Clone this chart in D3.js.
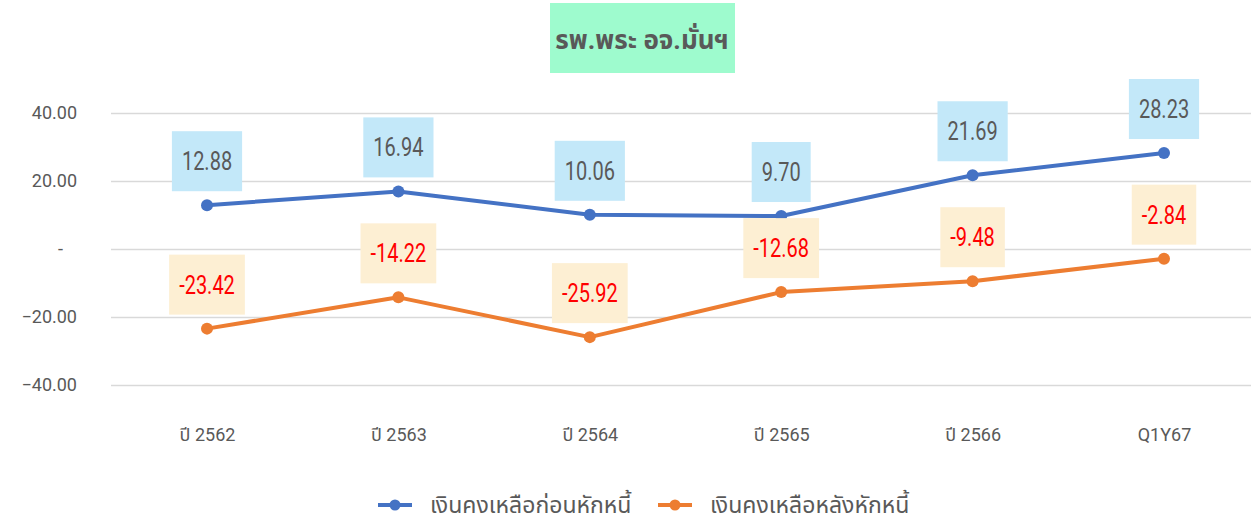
<!DOCTYPE html>
<html>
<head>
<meta charset="utf-8">
<script src="https://cdn.jsdelivr.net/npm/d3@7"></script>
<style>
  body { margin: 0; background: #fff; }
  text { font-family: Roboto, "Noto Sans Thai", "Noto Sans", "DejaVu Sans", sans-serif; }
</style>
</head>
<body>
<div id="chart"></div>
<script>
// chart values
const categories = ["ปี 2562", "ปี 2563", "ปี 2564", "ปี 2565", "ปี 2566", "Q1Y67"];
const beforeDebt = [12.88, 16.94, 10.06, 9.70, 21.69, 28.23];
const afterDebt = [-23.42, -14.22, -25.92, -12.68, -9.48, -2.84];
const seriesNames = ["เงินคงเหลือก่อนหักหนี้", "เงินคงเหลือหลังหักหนี้"];
const yTicks = [-40, -20, 0, 20, 40];
const titleText = "รพ.พระ อจ.มั่นฯ";

const width = 1251, height = 520;
const blue = "#4472C4", orange = "#ED7D31";

const svg = d3.select("#chart").append("svg")
    .attr("width", width)
    .attr("height", height);

const x = d3.scalePoint().domain(categories).range([207, 1164]);
const y = d3.scaleLinear().domain([-40, 40]).range([385, 113]);

// title
const tg = svg.append("g");
tg.append("rect")
    .attr("x", 550).attr("y", 3)
    .attr("width", 185).attr("height", 70)
    .attr("fill", "#9EFBCE");
tg.append("text")
    .attr("x", 642).attr("y", 49)
    .attr("text-anchor", "middle")
    .attr("font-size", 26)
    .attr("font-weight", "bold")
    .attr("fill", "#595959")
    .text(titleText);

// y axis + gridlines
const yAxis = d3.axisLeft(y)
    .tickValues(yTicks)
    .tickSize(-(width - 111))
    .tickPadding(34)
    .tickFormat(d => d === 0 ? "-" : d3.format(".2f")(d));

const ya = svg.append("g")
    .attr("transform", "translate(111,0)")
    .call(yAxis);
ya.select(".domain").remove();
ya.selectAll(".tick line").attr("stroke", "#d9d9d9").attr("stroke-width", 1.5);
ya.selectAll(".tick text")
    .attr("font-size", 18)
    .attr("fill", "#595959")
    .attr("font-family", "Roboto, sans-serif")
    .attr("dx", d => d === 0 ? -14 : 0);

// x axis labels
const xa = svg.append("g")
    .attr("transform", "translate(0,420)")
    .call(d3.axisBottom(x).tickSize(0).tickPadding(8));
xa.select(".domain").remove();
xa.selectAll(".tick text")
    .attr("font-size", 18)
    .attr("fill", "#595959");

// lines
const series = [
  {name: seriesNames[0], values: beforeDebt, color: blue, box: "#C3E8F9", txt: "#595959"},
  {name: seriesNames[1], values: afterDebt, color: orange, box: "#FDEFD3", txt: "#FF0000"}
];

const line = d3.line()
    .x((d, i) => x(categories[i]))
    .y(d => y(d));

series.forEach(s => {
  svg.append("path")
      .datum(s.values)
      .attr("fill", "none")
      .attr("stroke", s.color)
      .attr("stroke-width", 4)
      .attr("stroke-linejoin", "round")
      .attr("d", line);
  svg.append("g").selectAll("circle")
      .data(s.values)
      .join("circle")
      .attr("cx", (d, i) => x(categories[i]))
      .attr("cy", d => y(d))
      .attr("r", 6)
      .attr("fill", s.color);
});

// data labels (boxes drawn on top of lines)
series.forEach(s => {
  const lg = svg.append("g").selectAll("g")
      .data(s.values)
      .join("g")
      .attr("transform", (d, i) => `translate(${x(categories[i])},${y(d) - 14})`);
  lg.each(function(d) {
    const g = d3.select(this);
    const label = d.toFixed(2);
    const t = g.append("text")
        .attr("text-anchor", "middle")
        .attr("font-size", 25)
        .attr("fill", s.txt)
        .attr("transform", "translate(0,-21) scale(0.8,1)")
        .text(label);
    const w = t.node().getComputedTextLength() * 0.8 + 20;
    g.insert("rect", "text")
        .attr("x", -w / 2)
        .attr("y", -60)
        .attr("width", w)
        .attr("height", 60)
        .attr("fill", s.box);
  });
});

// legend
const legend = svg.append("g").attr("transform", "translate(0,505)");
const legendX = [378, 658];
series.forEach((s, i) => {
  const lg = legend.append("g").attr("transform", `translate(${legendX[i]},0)`);
  lg.append("line")
      .attr("x1", 0).attr("x2", 34)
      .attr("stroke", s.color).attr("stroke-width", 4);
  lg.append("circle").attr("cx", 17).attr("r", 5.5).attr("fill", s.color);
  lg.append("text")
      .attr("x", 52).attr("y", 8)
      .attr("font-size", 23)
      .attr("fill", "#595959")
      .text(s.name);
});
</script>
</body>
</html>
